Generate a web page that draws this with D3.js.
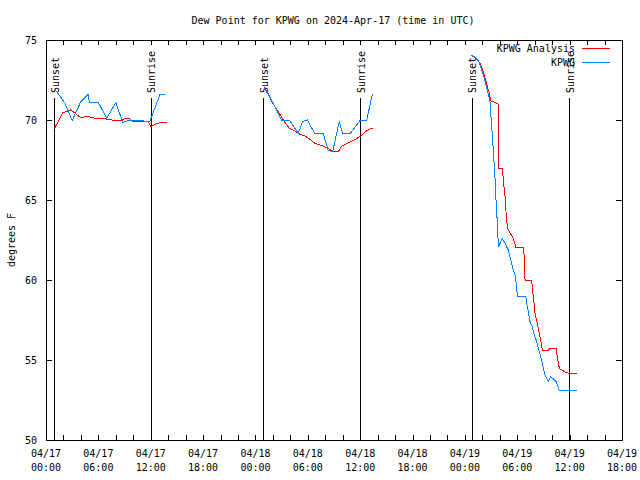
<!DOCTYPE html>
<html><head><meta charset="utf-8">
<script src="https://cdn.jsdelivr.net/npm/d3@7"></script>
<style>
body{margin:0;background:#fff;}
text{font-family:"DejaVu Sans Mono","Liberation Mono",monospace;font-size:10px;fill:#000;}
</style></head>
<body><svg id="c" width="640" height="480"></svg>
<script>
// hours since 2024-04-17 00:00 UTC
const obsHours = [1.03,1.6,2.18,3.0,3.98,4.85,4.96,6.0,6.95,8.0,8.8,9.3,9.93,10.96,11.35,11.9,12.1,13.06,13.6,
  null,
  24.98,25.47,26.05,27.0,27.88,28.91,29.41,29.94,30.82,31.77,32.35,32.85,33.6,34.0,34.83,35.98,36.75,37.39,
  null,
  48.78,49.16,49.53,49.81,50.19,50.57,50.87,51.07,51.25,51.33,51.45,51.53,51.64,51.76,51.83,52.28,52.59,52.97,53.17,53.36,53.54,53.74,53.93,54.0,54.97,55.08,55.26,55.46,55.65,55.84,56.23,56.52,56.8,56.98,57.18,57.55,57.83,58.06,58.44,58.82,60.88];
const obsDew = [71.9,71.5,71.05,69.96,71.15,71.6,71.1,71.1,70.1,71.08,69.86,69.94,70.0,70.0,69.9,69.9,70.2,71.6,71.6,
  null,
  71.98,71.6,71.04,70.0,70.0,69.17,69.9,70.0,69.13,69.13,68.08,68.02,69.9,69.13,69.13,69.96,70.0,71.6,
  null,
  74.06,73.92,73.75,73.33,72.7,71.875,71.2,69.58,68.125,67.4,66.35,65.3,64.27,63.125,62.04,62.6,62.3,61.875,61.46,61.04,60.625,60.3,59.58,59.0,59.0,58.54,58.02,57.4,57.19,56.77,56.15,55.52,55.0,54.48,54.06,53.65,53.96,53.85,53.65,53.08,53.08];

const anaHours = [0.95,1.91,2.37,2.83,3.24,3.9,4.93,5.61,6.76,7.71,8.67,9.05,9.63,9.82,11.72,12.03,12.49,13.26,13.83,
  null,
  24.98,25.47,25.86,26.62,27.31,27.88,28.53,29.02,29.68,30.25,30.82,31.59,32.16,32.92,33.49,33.88,34.64,35.41,35.98,36.75,37.32,37.5,
  null,
  48.89,49.35,49.73,50.04,50.42,50.79,50.95,51.25,51.83,51.85,52.28,52.36,52.48,52.63,52.71,52.79,52.97,53.54,53.85,54.69,54.81,54.89,55.65,55.72,55.84,56.03,56.3,56.52,56.69,56.87,57.56,57.75,58.44,58.59,58.82,59.09,59.66,60.04,60.88];
const anaDew = [69.44,70.46,70.52,70.63,70.46,70.17,70.21,70.1,70.08,69.98,69.98,70.1,70.08,69.94,69.875,69.58,69.73,69.875,69.875,
  null,
  72.04,71.67,71.15,70.52,69.9,69.48,69.31,69.13,69.0,68.79,68.54,68.4,68.27,68.02,68.02,68.375,68.58,68.79,68.96,69.33,69.48,69.48,
  null,
  74.0,73.79,73.54,73.125,72.4,71.67,71.2,71.15,71.0,66.98,66.98,66.56,65.83,65.1,64.27,63.64,63.125,62.6,62.04,62.04,61.46,60.0,60.0,59.58,58.96,57.92,57.3,56.67,56.25,55.625,55.625,55.73,55.73,55.2,54.48,54.375,54.2,54.17,54.17];

const sunHours = [0.92,12.03,24.87,35.98,48.81,59.93];
const sunLabels = ["Sunset","Sunrise","Sunset","Sunrise","Sunset","Sunrise"];
const yTicks = [50,55,60,65,70,75];
const seriesNames = ["KPWG Analysis","KPWG"];
const seriesColors = ["#ff0000","#0080ff"];
const titleText = "Dew Point for KPWG on 2024-Apr-17 (time in UTC)";
const yLabel = "degrees F";

const t0 = Date.UTC(2024,3,17,0,0);
const toDate = h => new Date(t0 + h*3600000);

const L=46,R=622,T=40,B=440;
const svg = d3.select("#c");
const x = d3.scaleUtc().domain([toDate(0), toDate(66)]).range([L,R]);
const y = d3.scaleLinear().domain([50,75]).range([B,T]);

// frame
svg.append("rect").attr("x",L).attr("y",T).attr("width",R-L).attr("height",B-T)
  .attr("fill","none").attr("stroke","#000").attr("stroke-width",1).attr("shape-rendering","crispEdges");

// x ticks (every 2h), inward on bottom and top
const xtv = d3.range(0,67,2).map(toDate);
const gxb = svg.append("g").attr("transform",`translate(0,${B})`)
  .call(d3.axisBottom(x).tickValues(xtv).tickSize(-5).tickFormat(""));
const gxt = svg.append("g").attr("transform",`translate(0,${T})`)
  .call(d3.axisTop(x).tickValues(xtv).tickSize(-5).tickFormat(""));
[gxb,gxt].forEach(g=>{g.select(".domain").remove(); g.selectAll("line").attr("shape-rendering","crispEdges");});

// x labels every 6h
const fmtD = d3.utcFormat("%m/%d"), fmtT = d3.utcFormat("%H:%M");
const lab = svg.append("g").selectAll("text").data(d3.range(0,67,6).map(toDate)).join("text")
  .attr("text-anchor","middle");
lab.append("tspan").attr("x",d=>x(d)).attr("y",457).text(d=>fmtD(d));
lab.append("tspan").attr("x",d=>x(d)).attr("y",471).text(d=>fmtT(d));

// y ticks
const gyl = svg.append("g").attr("transform",`translate(${L},0)`)
  .call(d3.axisLeft(y).tickValues(yTicks).tickSize(-6).tickPadding(10).tickFormat(d3.format("d")));
const gyr = svg.append("g").attr("transform",`translate(${R},0)`)
  .call(d3.axisRight(y).tickValues(yTicks).tickSize(-6).tickFormat(""));
[gyl,gyr].forEach(g=>{g.select(".domain").remove(); g.selectAll("line").attr("shape-rendering","crispEdges");});
gyl.selectAll("text").attr("font-family",null).attr("font-size",null).attr("x",-9);

// title and y label
svg.append("text").attr("x",333).attr("y",24).attr("text-anchor","middle").text(titleText);
svg.append("text").attr("transform","translate(15,240) rotate(-90)").attr("text-anchor","middle").text(yLabel);

// sun lines
const sg = svg.append("g");
sg.selectAll("line").data(sunHours).join("line")
  .attr("x1",d=>Math.round(x(toDate(d)))+0.5).attr("x2",d=>Math.round(x(toDate(d)))+0.5)
  .attr("y1",98).attr("y2",B).attr("stroke","#000").attr("stroke-width",1);
sg.selectAll("text").data(sunHours).join("text")
  .attr("transform",d=>`translate(${x(toDate(d))+1},93) rotate(-90)`)
  .attr("dominant-baseline","central").text((d,i)=>sunLabels[i]);

// series
const line = d3.line().defined(d=>d[1]!==null).x(d=>x(toDate(d[0]))).y(d=>y(d[1]));
const anaPts = anaHours.map((h,i)=>[h,anaDew[i]]);
const obsPts = obsHours.map((h,i)=>[h,obsDew[i]]);
svg.append("path").datum(anaPts).attr("d",line).attr("fill","none").attr("stroke",seriesColors[0]).attr("stroke-width",1).attr("shape-rendering","crispEdges");
svg.append("path").datum(obsPts).attr("d",line).attr("fill","none").attr("stroke",seriesColors[1]).attr("stroke-width",1).attr("shape-rendering","crispEdges");

// legend
const lg = svg.append("g");
seriesNames.forEach((n,i)=>{
  const yy = 48 + i*14;
  lg.append("text").attr("x",575).attr("y",yy).attr("text-anchor","end").attr("dominant-baseline","central").text(n);
  lg.append("line").attr("x1",582).attr("x2",610).attr("y1",yy+0.5).attr("y2",yy+0.5).attr("stroke",seriesColors[i]).attr("shape-rendering","crispEdges");
});
</script></body></html>
